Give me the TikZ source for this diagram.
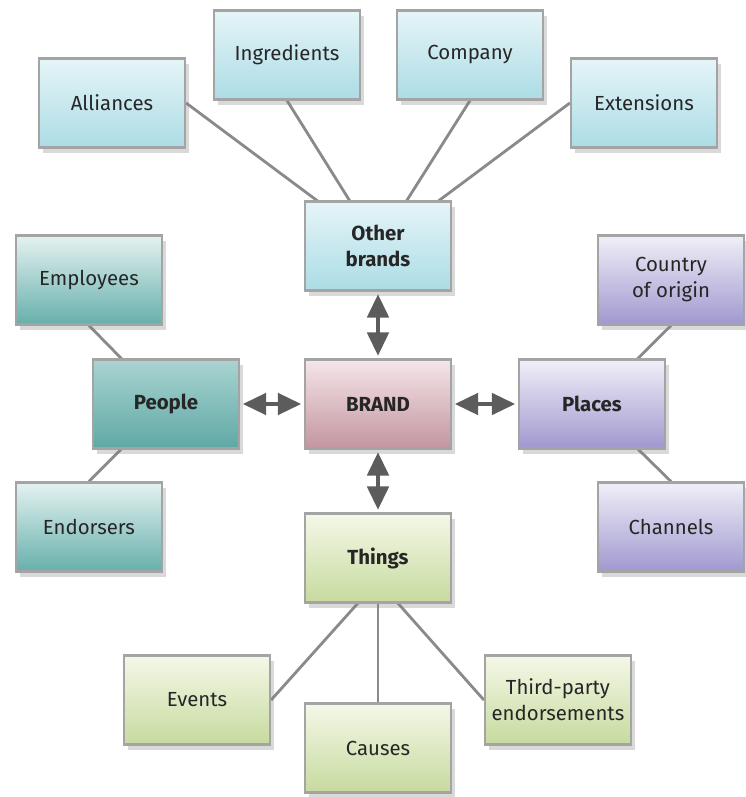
\documentclass[tikz,border=0pt]{standalone}
\usepackage{fontspec}
\setmainfont{Fira Sans}
\usepackage{tikz}
\usepackage{xcolor}
\definecolor{rulegray}{HTML}{A4A4A4}
\definecolor{linkgray}{HTML}{8A8A8A}
\definecolor{arrowgray}{HTML}{5C5C5C}
\definecolor{textdark}{HTML}{262626}
\definecolor{bluetop}{HTML}{E6F5F8}
\definecolor{bluebot}{HTML}{ABDCE5}
\definecolor{tealtop}{HTML}{E4F2F1}
\definecolor{tealbot}{HTML}{66AFAB}
\definecolor{tealhubtop}{HTML}{A9D4D2}
\definecolor{tealhubbot}{HTML}{5FA8A4}
\definecolor{pinktop}{HTML}{F5E6E9}
\definecolor{pinkbot}{HTML}{C3959F}
\definecolor{purpletop}{HTML}{F0EFF8}
\definecolor{purplebot}{HTML}{A098CF}
\definecolor{greentop}{HTML}{F4F8E8}
\definecolor{greenbot}{HTML}{C7DA9E}
\usetikzlibrary{arrows.meta,positioning,calc,shadows,backgrounds}

\begin{document}
\begin{tikzpicture}[
        font=\fontsize{14.5}{18.5}\selectfont,
        box/.style     = {draw=rulegray, line width=1.6pt, align=center, text=textdark,
                          minimum width=3.65cm, minimum height=2.22cm, inner sep=2pt,
                          drop shadow={shadow xshift=0.1cm, shadow yshift=-0.14cm, opacity=0.3}},
        hub/.style     = {box, font=\fontsize{14.5}{18.5}\selectfont\bfseries},
        brandsbox/.style = {top color=bluetop, bottom color=bluebot},
        peoplebox/.style = {top color=tealtop, bottom color=tealbot},
        peoplehub/.style = {top color=tealhubtop, bottom color=tealhubbot},
        corebox/.style   = {top color=pinktop, bottom color=pinkbot},
        placesbox/.style = {top color=purpletop, bottom color=purplebot},
        thingsbox/.style = {top color=greentop, bottom color=greenbot},
        spoke/.style   = {draw=linkgray, line width=2pt},
        link/.style    = {{Triangle[length=5.8mm, width=5.4mm]}-{Triangle[length=5.8mm, width=5.4mm]},
                          line width=2.2pt, arrowgray, shorten <=2pt, shorten >=2pt}
    ]
        \useasboundingbox (-9.45,-9.825) rectangle (9.175,10.1);

        % ---- Centre ----
        \node[hub, corebox] (brand) at (0,0) {BRAND};

        % ---- Other brands ----
        \node[hub, brandsbox] (other) at (0, 3.95) {Other\\brands};
        \node[box, brandsbox] (alliances) at (-6.65, 7.525) {Alliances};
        \node[box, brandsbox] (ingredients) at (-2.275, 8.725) {Ingredients};
        \node[box, brandsbox] (company) at (2.3, 8.725) {Company};
        \node[box, brandsbox] (extensions) at (6.65, 7.525) {Extensions};

        % ---- People ----
        \node[hub, peoplehub] (people) at (-5.3, 0) {People};
        \node[box, peoplebox] (employees) at (-7.225, 3.1) {Employees};
        \node[box, peoplebox] (endorsers) at (-7.225, -3.075) {Endorsers};

        % ---- Places ----
        \node[hub, placesbox] (places) at (5.35, 0) {Places};
        \node[box, placesbox] (country) at (7.325, 3.1) {Country\\of origin};
        \node[box, placesbox] (channels) at (7.325, -3.075) {Channels};

        % ---- Things ----
        \node[hub, thingsbox] (things) at (0, -3.85) {Things};
        \node[box, thingsbox] (events) at (-4.525, -7.4) {Events};
        \node[box, thingsbox] (causes) at (0, -8.6) {Causes};
        \node[box, thingsbox] (thirdparty) at (4.5, -7.4) {Third-party\\endorsements};
        \coordinate (thub) at ($(things.center)!0.5!(things.south)$);

        % ---- Spokes ----
        \begin{scope}[on background layer]
            \draw[spoke] (other.center) -- (alliances.east);
            \draw[spoke] (other.center) -- (ingredients.south);
            \draw[spoke] (other.center) -- (company.south);
            \draw[spoke] (other.center) -- (extensions.west);
            \draw[spoke] (people.center) -- (employees.south);
            \draw[spoke] (people.center) -- (endorsers.north);
            \draw[spoke] (places.center) -- (country.south);
            \draw[spoke] (places.center) -- (channels.north);
            \draw[spoke] (thub) -- (events.east);
            \draw[spoke] (thub) -- (causes.north);
            \draw[spoke] (thub) -- (thirdparty.west);
        \end{scope}

        % ---- Links ----
        \draw[link] (other.south) -- (brand.north);
        \draw[link] (brand.south) -- (things.north);
        \draw[link] (people.east) -- (brand.west);
        \draw[link] (brand.east) -- (places.west);
    \end{tikzpicture}
\end{document}
